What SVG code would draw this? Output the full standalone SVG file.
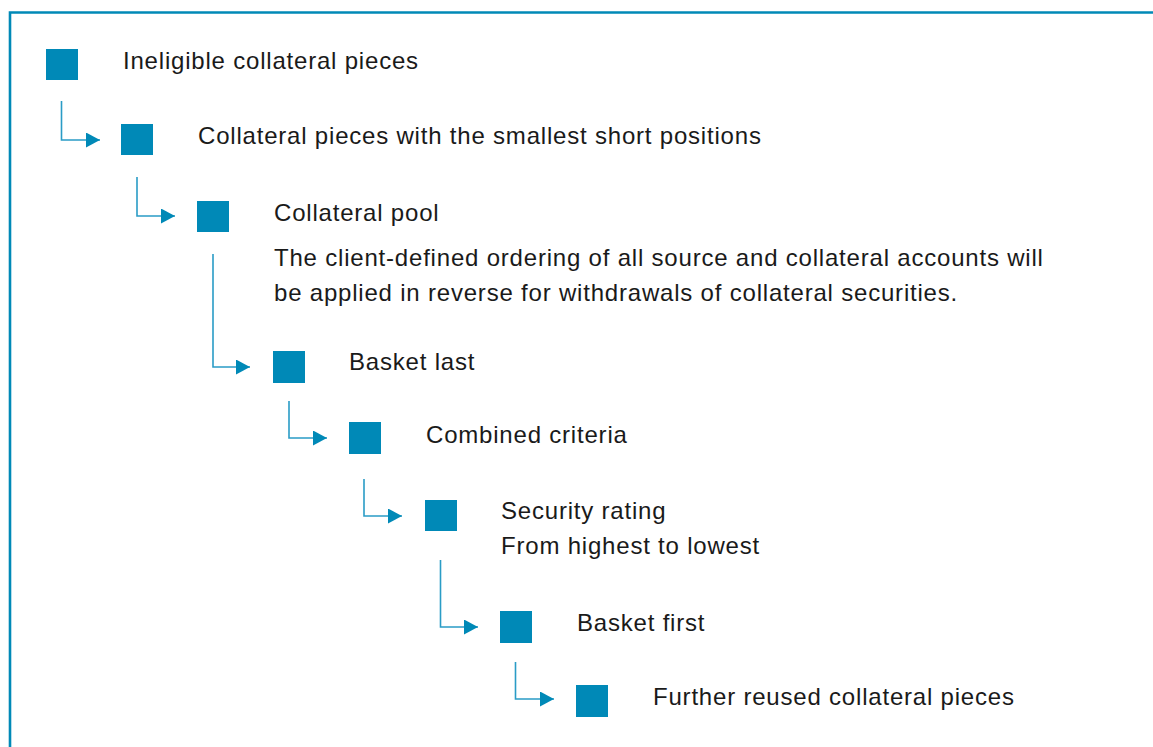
<svg xmlns="http://www.w3.org/2000/svg" width="1153" height="747" viewBox="0 0 1153 747">
<style>
.sq{fill:#0089b7}
.t{font-family:"Liberation Sans",Arial,sans-serif;font-size:24px;letter-spacing:0.8px;fill:#1a1a1a}
.c{fill:none;stroke:#2a9cc6;stroke-width:1.6}
</style>
<defs>
<marker id="ah" markerUnits="userSpaceOnUse" markerWidth="15" markerHeight="16" refX="14" refY="7.5" orient="auto">
<path d="M0,0 L14,7.5 L0,15 Z" fill="#0089b7"/>
</marker>
</defs>
<rect x="0" y="0" width="1153" height="747" fill="#ffffff"/>
<path d="M10,760 V12.5 H1160" fill="none" stroke="#0089b7" stroke-width="2.6"/>
<g id="connectors">
<path class="c" d="M61.5,101 V140 H100" marker-end="url(#ah)"/>
<path class="c" d="M137,177 V216 H175" marker-end="url(#ah)"/>
<path class="c" d="M213,254 V367 H250" marker-end="url(#ah)"/>
<path class="c" d="M289,401 V438 H327" marker-end="url(#ah)"/>
<path class="c" d="M364,479 V516 H402" marker-end="url(#ah)"/>
<path class="c" d="M440.5,560 V627 H478" marker-end="url(#ah)"/>
<path class="c" d="M515.5,662 V699 H554" marker-end="url(#ah)"/>
</g>
<g id="n1"><rect class="sq" x="46" y="49" width="32" height="31"/><text class="t" x="123" y="69">Ineligible collateral pieces</text></g>
<g id="n2"><rect class="sq" x="121" y="124" width="32" height="31"/><text class="t" x="198" y="144">Collateral pieces with the smallest short positions</text></g>
<g id="n3"><rect class="sq" x="197" y="201" width="32" height="31"/><text class="t" x="274" y="221">Collateral pool</text>
<text class="t" x="274" y="266">The client-defined ordering of all source and collateral accounts will</text>
<text class="t" x="274" y="301">be applied in reverse for withdrawals of collateral securities.</text></g>
<g id="n4"><rect class="sq" x="273" y="351" width="32" height="32"/><text class="t" x="349" y="370">Basket last</text></g>
<g id="n5"><rect class="sq" x="349" y="422" width="32" height="32"/><text class="t" x="426" y="443">Combined criteria</text></g>
<g id="n6"><rect class="sq" x="425" y="500" width="32" height="31"/><text class="t" x="501" y="519">Security rating</text><text class="t" x="501" y="554">From highest to lowest</text></g>
<g id="n7"><rect class="sq" x="500" y="611" width="32" height="32"/><text class="t" x="577" y="631">Basket first</text></g>
<g id="n8"><rect class="sq" x="576" y="685" width="32" height="32"/><text class="t" x="653" y="705">Further reused collateral pieces</text></g>
</svg>
